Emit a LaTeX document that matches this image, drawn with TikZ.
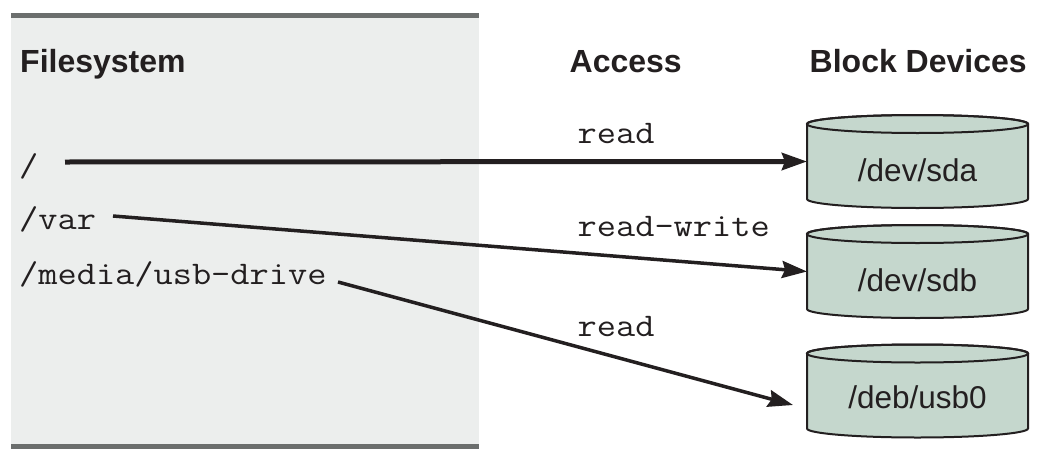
\documentclass[tikz,border=0pt]{standalone}
\usepackage{fontspec}
\setmainfont{Liberation Sans}
\setmonofont{Latin Modern Mono}[FakeStretch=1.13]
\usetikzlibrary{arrows.meta,calc}
\definecolor{panel}{HTML}{ECEEED}
\definecolor{bar}{HTML}{6B6E6D}
\definecolor{disk}{HTML}{C5D7CD}
\definecolor{ink}{HTML}{231F20}
\pgfdeclarelayer{bg}
\pgfsetlayers{bg,main}
\newcommand\diskshape[1]{%
  \filldraw[fill=disk, draw=ink, line width=2pt] (#1.north west) -- (#1.south west)
    arc[start angle=180, end angle=360, x radius=110.5pt, y radius=9pt] -- (#1.north east)
    arc[start angle=0, end angle=180, x radius=110.5pt, y radius=9pt] -- cycle;
  \draw[ink, line width=2pt] (#1.north) ellipse[x radius=110.5pt, y radius=9pt];
}
\tikzset{
  mono/.style={font=\fontsize{33}{38}\ttfamily, text=ink, inner sep=0pt, anchor=base west},
  head/.style={font=\fontsize{32}{36}\selectfont\bfseries, text=ink, inner sep=0pt, anchor=base west},
  disknode/.style={minimum width=221pt, inner sep=0pt, outer sep=0pt, text height=57.5pt, text depth=17.5pt, font=\fontsize{31.5}{36}\selectfont, text=ink},
  link/.style={draw=ink, line width=3.5pt, -{Stealth[length=25pt,width=17pt,inset=3pt]}},
}
\begin{document}
\begin{tikzpicture}[x=1pt,y=1pt]
\useasboundingbox (0,0) rectangle (1041,-458);
% panel
\fill[panel] (11,-18) rectangle (479,-444);
\fill[bar] (11,-13) rectangle (479,-18);
\fill[bar] (11,-444) rectangle (479,-449);
% headers
\node[head] (hfs) at (20,-72) {Filesystem};
\node[head] (hacc) at (569.5,-72) {Access};
\node[head] (hblk) at (809.5,-72) {Block Devices};
% filesystem paths
\node[mono] (root) at (19,-176) {/};
\node[mono] (var) at (19,-229) {/var};
\node[mono] (media) at (19,-284) {/media/usb-drive};
% access labels
\node[mono] (lread1) at (577.5,-143) {read};
\node[mono] (lrw) at (577.5,-236) {read-write};
\node[mono] (lread2) at (577.5,-336) {read};
% devices
\node[disknode] (sda) at (917.5,-161.5) {/dev/sda};
\node[disknode] (sdb) at (917.5,-271.5) {/dev/sdb};
\node[disknode, text height=54.5pt, text depth=20.5pt] (usb) at (917.5,-391) {/deb/usb0};
\begin{pgfonlayer}{bg}
\diskshape{sda}
\diskshape{sdb}
\diskshape{usb}
\end{pgfonlayer}
% connectors
\draw[link, line width=5pt] ($(root.base west)+(46,14)$) -- (sda.west);
\draw[link] ($(var.base west)+(94,13)$) -- (sdb.west);
\draw[link] ($(media.base west)+(319,2)$) -- ($(usb.west)+(-14,-14)$);
\end{tikzpicture}
\end{document}
